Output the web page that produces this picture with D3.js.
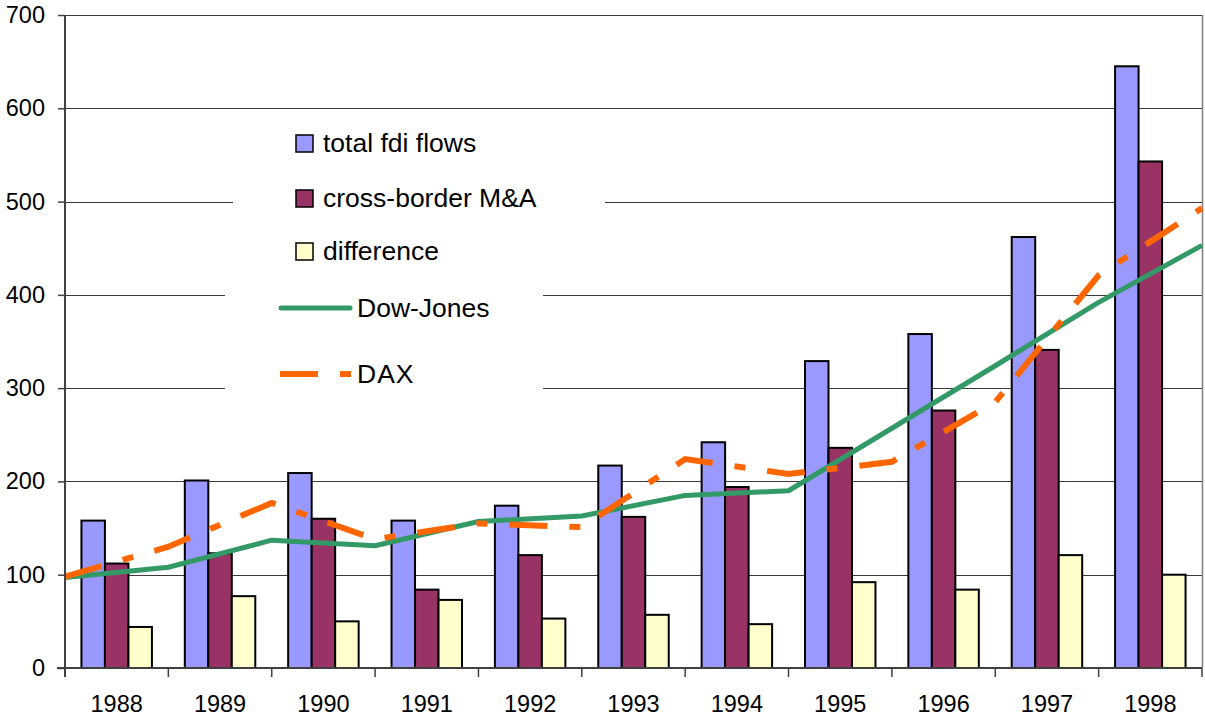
<!DOCTYPE html>
<html>
<head>
<meta charset="utf-8">
<script src="https://cdn.jsdelivr.net/npm/d3@7"></script>
<style>
  body { margin: 0; background: #fff; }
  text { font-family: "Liberation Sans", Arial, sans-serif; fill: #000; }
</style>
</head>
<body>
<div id="chart"></div>
<script>
// data
const years = ["1988", "1989", "1990", "1991", "1992", "1993", "1994", "1995", "1996", "1997", "1998"];
const totalFdi = [158, 201, 209, 158, 174, 217, 242, 329, 358, 462, 645];
const crossBorder = [112, 123, 160, 84, 121, 162, 194, 236, 276, 341, 543];
const difference = [44, 77, 50, 73, 53, 57, 47, 92, 84, 121, 100];
// index lines sit on the category boundaries (12 points)
const dowJones = [97, 108, 137, 131, 157, 163, 185, 190, 257, 324, 392, 453];
const dax = [98, 130, 177, 138, 155, 151, 224, 208, 221, 285, 421, 493];
const yTicks = [0, 100, 200, 300, 400, 500, 600, 700];

const barSeries = [
  { name: "total fdi flows", values: totalFdi, color: "#9999ff" },
  { name: "cross-border M&A", values: crossBorder, color: "#993366" },
  { name: "difference", values: difference, color: "#ffffcc" }
];

const width = 1205, height = 717;
const plotLeft = 65, plotRight = 1202, plotTop = 15, plotBottom = 668;

const svg = d3.select("#chart").append("svg")
  .attr("width", width)
  .attr("height", height);

const x0 = d3.scaleBand().domain(years).range([plotLeft, plotRight]).padding(0);
const x1 = d3.scaleBand().domain(barSeries.map(d => d.name))
  .range([0, x0.bandwidth()]).paddingInner(0).paddingOuter(0.7);
const xLine = d3.scaleLinear().domain([0, years.length]).range([plotLeft, plotRight]);
const y = d3.scaleLinear().domain([0, 700]).range([plotBottom, plotTop]);

// gridlines
svg.append("g")
  .selectAll("line")
  .data(yTicks.filter(d => d > 0))
  .enter().append("line")
    .attr("x1", plotLeft).attr("x2", plotRight)
    .attr("y1", d => Math.round(y(d)) + 0.5)
    .attr("y2", d => Math.round(y(d)) + 0.5)
    .style("stroke", "#3a3a3a")
    .style("stroke-width", 1);

// right border
svg.append("line")
  .attr("x1", plotRight + 0.5).attr("x2", plotRight + 0.5)
  .attr("y1", y(700)).attr("y2", plotBottom)
  .style("stroke", "#808080")
  .style("stroke-width", 1.5);

// bars
svg.append("g")
  .selectAll("g")
  .data(barSeries)
  .enter().append("g")
    .style("fill", d => d.color)
  .selectAll("rect")
  .data(d => d.values.map((v, i) => ({ key: d.name, year: years[i], value: v })))
  .enter().append("rect")
    .attr("x", d => x0(d.year) + x1(d.key))
    .attr("y", d => y(d.value))
    .attr("width", x1.bandwidth())
    .attr("height", d => plotBottom - y(d.value))
    .style("stroke", "#000")
    .style("stroke-width", 2);

// lines
const line = d3.line()
  .x((d, i) => xLine(i))
  .y(d => y(d));

svg.append("path")
  .datum(dowJones)
  .attr("d", line)
  .style("fill", "none")
  .style("stroke", "#339966")
  .style("stroke-width", 5)
  .style("stroke-linejoin", "round");

svg.append("path")
  .datum(dax)
  .attr("d", line)
  .style("fill", "none")
  .style("stroke", "#ff6600")
  .style("stroke-width", 6)
  .style("stroke-dasharray", "38,22,11,22");

// axes
const yAxis = svg.append("g")
  .attr("transform", `translate(${plotLeft},0)`)
  .call(d3.axisLeft(y).tickValues(yTicks).tickSize(7).tickPadding(13).tickFormat(d3.format("d")));
yAxis.select(".domain").remove();
yAxis.selectAll(".tick line").style("stroke", "#404040").style("stroke-width", 1.5);
yAxis.selectAll("text").style("font-size", "23.5px");

svg.append("line")
  .attr("x1", plotLeft).attr("x2", plotLeft)
  .attr("y1", y(700)).attr("y2", plotBottom + 9)
  .style("stroke", "#404040")
  .style("stroke-width", 2);

const xAxis = svg.append("g")
  .attr("transform", `translate(0,${plotBottom})`)
  .call(d3.axisBottom(x0).tickSize(0).tickPadding(27));
xAxis.select(".domain").remove();
xAxis.selectAll("text").style("font-size", "23.5px");

svg.append("line")
  .attr("x1", plotLeft - 8).attr("x2", plotRight)
  .attr("y1", plotBottom).attr("y2", plotBottom)
  .style("stroke", "#404040")
  .style("stroke-width", 2);

svg.append("g")
  .selectAll("line")
  .data(d3.range(years.length + 1))
  .enter().append("line")
    .attr("x1", d => xLine(d)).attr("x2", d => xLine(d))
    .attr("y1", plotBottom).attr("y2", plotBottom + 9)
    .style("stroke", "#404040")
    .style("stroke-width", 1.5);

// legend
const legend = svg.append("g");
legend.append("rect")
  .attr("x", 233).attr("y", 120).attr("width", 372).attr("height", 150)
  .style("fill", "#fff");
legend.append("rect")
  .attr("x", 225).attr("y", 270).attr("width", 318).attr("height", 130)
  .style("fill", "#fff");

const rowY = [143, 198, 251];
barSeries.forEach((s, i) => {
  legend.append("rect")
    .attr("x", 296).attr("y", rowY[i] - 8)
    .attr("width", 17).attr("height", 17)
    .style("fill", s.color)
    .style("stroke", "#000")
    .style("stroke-width", 1.5);
  legend.append("text")
    .attr("x", 323).attr("y", rowY[i] + 9)
    .style("font-size", "26.5px")
    .text(s.name);
});

legend.append("line")
  .attr("x1", 281).attr("x2", 350).attr("y1", 308).attr("y2", 308)
  .style("stroke", "#339966").style("stroke-width", 5).style("stroke-linecap", "round");
legend.append("text")
  .attr("x", 357).attr("y", 317)
  .style("font-size", "26.5px")
  .text("Dow-Jones");

legend.append("line")
  .attr("x1", 280).attr("x2", 351).attr("y1", 374).attr("y2", 374)
  .style("stroke", "#ff6600").style("stroke-width", 6).style("stroke-dasharray", "38,22,11,22");
legend.append("text")
  .attr("x", 357).attr("y", 383)
  .style("font-size", "26.5px")
  .style("letter-spacing", "1px")
  .text("DAX");
</script>
</body>
</html>
